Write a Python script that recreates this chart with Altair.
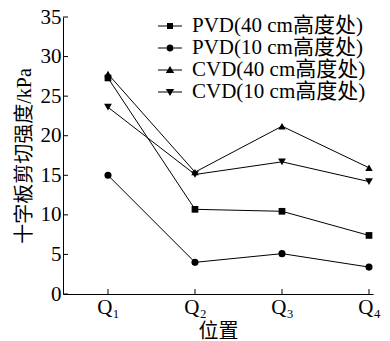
import altair as alt
import pandas as pd

positions = [1, 2, 3, 4]
pos_labels = ["Q₁", "Q₂", "Q₃", "Q₄"]
series = ["PVD(40 cm高度处)", "PVD(10 cm高度处)", "CVD(40 cm高度处)", "CVD(10 cm高度处)"]
pvd40 = [27.3, 10.7, 10.45, 7.4]
pvd10 = [15.0, 4.0, 5.1, 3.4]
cvd40 = [27.8, 15.4, 21.2, 15.95]
cvd10 = [23.6, 15.1, 16.7, 14.2]
y_ticks = [0, 5, 10, 15, 20, 25, 30, 35]

shapes = ["square", "circle", "triangle-up", "triangle-down"]
sizes = [45, 60, 75, 75]


def seg(gap):
    return ("M-1.2,-0.05H-{g}V0.05H-1.2Z"
            "M{g},-0.05H1.2V0.05H{g}Z").format(g=gap)


legend_paths = [
    seg(0.28) + "M-0.3,-0.3H0.3V0.3H-0.3Z",
    seg(0.33) + "M-0.36,0A0.36,0.36 0 1,0 0.36,0A0.36,0.36 0 1,0 -0.36,0Z",
    seg(0.22) + "M0,-0.4L0.42,0.3L-0.42,0.3Z",
    seg(0.22) + "M0,0.4L0.42,-0.3L-0.42,-0.3Z",
]

rows = []
for name, vals in zip(series, [pvd40, pvd10, cvd40, cvd10]):
    for p, v in zip(positions, vals):
        rows.append({"series": name, "pos": p, "value": v})
df = pd.DataFrame(rows)

W, H = 310, 277
SERIF = "Liberation Serif, Noto Sans CJK SC"

label_expr = "[" + ",".join("'" + s + "'" for s in pos_labels) + "][datum.value - 1]"

x = alt.X(
    "pos:Q",
    scale=alt.Scale(domain=[0.483, 4.046], nice=False, zero=False),
    axis=alt.Axis(values=positions, labelExpr=label_expr, ticks=False, grid=False,
                  title="位置", labelPadding=2, titleY=27, titleBaseline="top"),
)
y = alt.Y(
    "value:Q",
    scale=alt.Scale(domain=[0, 35], nice=False),
    axis=alt.Axis(values=y_ticks, ticks=False, grid=False,
                  title="十字板剪切强度/kPa", labelPadding=2, titlePadding=6),
)

base = alt.Chart(df)
lines = base.mark_line(color="black", strokeWidth=1).encode(x=x, y=y, detail="series:N")
points = base.mark_point(filled=True, color="black", opacity=1).encode(
    x=x, y=y,
    shape=alt.Shape("series:N", scale=alt.Scale(domain=series, range=shapes), legend=None),
    size=alt.Size("series:N", scale=alt.Scale(domain=series, range=sizes), legend=None),
)
legend_layer = base.transform_filter("false").mark_point(
    filled=True, color="black", opacity=1
).encode(
    x=x, y=y,
    shape=alt.Shape(
        "series:N",
        scale=alt.Scale(domain=series, range=legend_paths),
        legend=alt.Legend(
            orient="none", legendX=96, legendY=-2, title=None,
            symbolSize=400, labelFont=SERIF, labelFontSize=21, labelColor="black",
            labelOffset=11, rowPadding=1, padding=0, labelLimit=400,
            symbolFillColor="black", symbolOpacity=1,
        ),
    ),
)

ytick_df = pd.DataFrame({"value": y_ticks})
xtick_df = pd.DataFrame({"pos": positions})
yticks = alt.Chart(ytick_df).mark_rule(color="black", strokeWidth=1).encode(
    y=y, x=alt.value(0), x2=alt.value(5)
)
xticks = alt.Chart(xtick_df).mark_rule(color="black", strokeWidth=1).encode(
    x=x, y=alt.value(H), y2=alt.value(H - 5)
)

chart = (
    alt.layer(lines, points, legend_layer, yticks, xticks)
    .resolve_scale(shape="independent", size="independent")
    .resolve_legend(shape="independent")
    .properties(
        width=W, height=H,
        autosize=alt.AutoSizeParams(type="none"),
        padding={"left": 55, "top": 9, "right": 9, "bottom": 47},
    )
    .configure_view(stroke=None)
    .configure_axis(
        labelFont=SERIF, labelFontSize=21, labelColor="black",
        titleFont=SERIF, titleFontSize=20, titleFontWeight="normal", titleColor="black",
        domainColor="black", domainWidth=1,
    )
)

chart.save("out.html", embed_options={"renderer": "svg", "actions": False})
